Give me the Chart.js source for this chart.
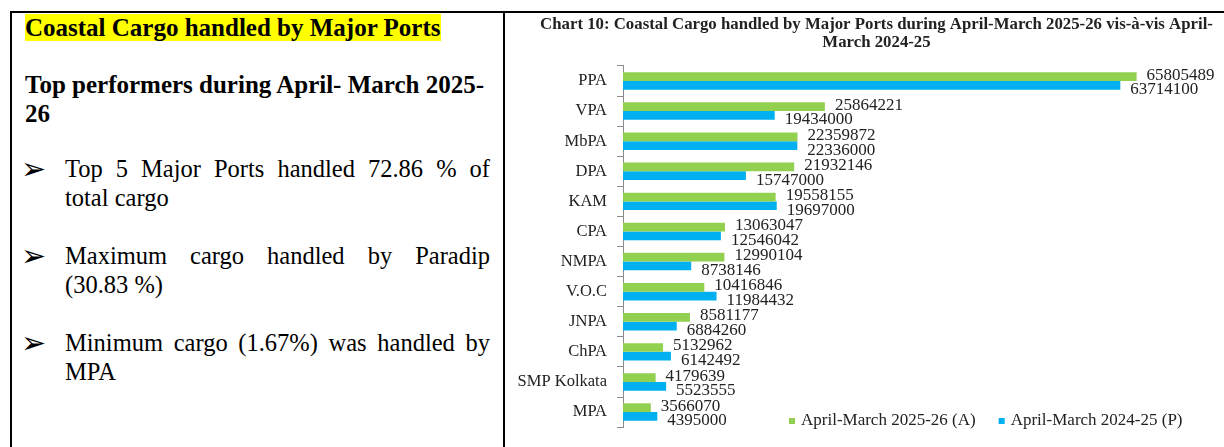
<!DOCTYPE html>
<html>
<head>
<meta charset="utf-8">
<script src="https://cdn.jsdelivr.net/npm/chart.js@4.4.1/dist/chart.umd.min.js"></script>
<style>
  html, body { margin: 0; padding: 0; background: #fff; }
  body { width: 1224px; height: 447px; position: relative; overflow: hidden; font-family: 'Liberation Serif', 'Times New Roman', serif; color: #000; }
  .line { position: absolute; background: #000; }
  .abs { position: absolute; white-space: nowrap; }
  .head { left: 25px; top: 14px; font-size: 25px; font-weight: bold; line-height: 28px; }
  .head span { background: #ffff00; }
  .sub { left: 25px; top: 70px; font-size: 25px; font-weight: bold; line-height: 29px; }
  .bul { position: absolute; left: 65px; width: 425px; font-size: 24.5px; line-height: 28.7px; }
  .bul .j { text-align: justify; text-align-last: justify; white-space: nowrap; }
  .arrow { position: absolute; left: 21px; font-family: 'DejaVu Sans', sans-serif; font-size: 30px; line-height: 30px; }
  #wrap { position: absolute; left: 505px; top: 13px; width: 719px; height: 434px; }
</style>
</head>
<body>
<div class="line" style="left:10px; top:11px; width:1214px; height:2px;"></div>
<div class="line" style="left:10px; top:11px; width:2px; height:436px;"></div>
<div class="line" style="left:503px; top:11px; width:2px; height:436px;"></div>

<div class="abs head"><span>Coastal Cargo handled by Major Ports</span></div>
<div class="abs sub">Top performers during April- March 2025-<br>26</div>

<div class="arrow" style="top:154px;">&#10146;</div>
<div class="bul" style="top:155px;"><div class="j">Top 5 Major Ports handled 72.86 % of</div><div>total cargo</div></div>

<div class="arrow" style="top:241px;">&#10146;</div>
<div class="bul" style="top:242px;"><div class="j">Maximum cargo handled by Paradip</div><div>(30.83 %)</div></div>

<div class="arrow" style="top:328px;">&#10146;</div>
<div class="bul" style="top:329px;"><div class="j">Minimum cargo (1.67%) was handled by</div><div>MPA</div></div>

<div id="wrap"><canvas id="c" width="719" height="434"></canvas></div>

<script>
const categories = ['PPA', 'VPA', 'MbPA', 'DPA', 'KAM', 'CPA', 'NMPA', 'V.O.C', 'JNPA', 'ChPA', 'SMP Kolkata', 'MPA'];
const current2025 = [65805489, 25864221, 22359872, 21932146, 19558155, 13063047, 12990104, 10416846, 8581177, 5132962, 4179639, 3566070];
const previous2024 = [63714100, 19434000, 22336000, 15747000, 19697000, 12546042, 8738146, 11984432, 6884260, 6142492, 5523555, 4395000];
const seriesLabels = ['April-March 2025-26 (A)', 'April-March 2024-25 (P)'];
const titleLines = ['Chart 10: Coastal Cargo handled by Major Ports during April-March 2025-26 vis-\u00e0-vis April-', 'March 2024-25'];

const SERIF = "'Liberation Serif', 'Times New Roman', serif";
const GREEN = '#92D050';
const BLUE = '#00B0F0';

const labelPlugin = {
  id: 'valueLabels',
  afterDatasetsDraw(chart) {
    const ctx = chart.ctx;
    const offsets = [-1.5, 4.5];
    ctx.save();
    ctx.font = '17px ' + SERIF;
    ctx.fillStyle = '#222';
    ctx.textAlign = 'left';
    ctx.textBaseline = 'middle';
    chart.data.datasets.forEach((ds, i) => {
      const meta = chart.getDatasetMeta(i);
      meta.data.forEach((bar, j) => {
        ctx.fillText(String(ds.data[j]), bar.x + 10, bar.y + offsets[i]);
      });
    });
    ctx.restore();
  }
};

const legendPlugin = {
  id: 'innerLegend',
  afterDraw(chart) {
    const ctx = chart.ctx;
    ctx.save();
    ctx.font = '17px ' + SERIF;
    ctx.textBaseline = 'middle';
    ctx.textAlign = 'left';
    let x = 284;
    const y = 408;
    chart.data.datasets.forEach((ds) => {
      ctx.fillStyle = ds.backgroundColor;
      ctx.fillRect(x, y - 3, 6, 6);
      ctx.fillStyle = '#222';
      ctx.fillText(ds.label, x + 12, y);
      x += 12 + ctx.measureText(ds.label).width + 23;
    });
    ctx.restore();
  }
};

const titleShift = {
  id: 'titleShift',
  afterLayout(chart) {
    if (chart.titleBlock) {
      chart.titleBlock.left += 12;
      chart.titleBlock.right += 12;
    }
  }
};

new Chart(document.getElementById('c'), {
  type: 'bar',
  data: {
    labels: categories,
    datasets: [
      { label: seriesLabels[0], data: current2025, backgroundColor: GREEN, categoryPercentage: 0.58, barPercentage: 1.0 },
      { label: seriesLabels[1], data: previous2024, backgroundColor: BLUE, categoryPercentage: 0.58, barPercentage: 1.0 }
    ]
  },
  options: {
    indexAxis: 'y',
    responsive: false,
    animation: false,
    devicePixelRatio: 1,
    layout: { padding: { left: 0, right: 0, top: 0, bottom: 7 } },
    plugins: {
      legend: { display: false },
      tooltip: { enabled: false },
      title: {
        display: true,
        text: titleLines,
        color: '#222',
        font: { family: SERIF, size: 16.8, weight: 'bold', lineHeight: 1.1 },
        padding: { top: 2, bottom: 14 }
      }
    },
    scales: {
      x: { display: false, min: 0, max: 77000000 },
      y: {
        afterFit(scale) { scale.width = 118; },
        grid: { display: true, drawOnChartArea: false, drawTicks: true, tickLength: 6, color: '#8c8c8c', offset: true },
        border: { display: true, color: '#8c8c8c', width: 1 },
        ticks: { color: '#222', padding: 10, font: { family: SERIF, size: 16.5 }, autoSkip: false }
      }
    }
  },
  plugins: [labelPlugin, legendPlugin, titleShift]
});
</script>
</body>
</html>
